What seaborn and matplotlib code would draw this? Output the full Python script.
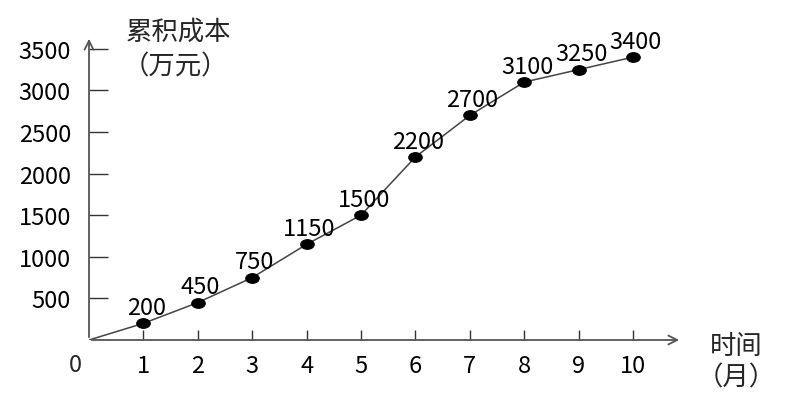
import numpy as np
import pandas as pd
import matplotlib
matplotlib.use("Agg")
import matplotlib.pyplot as plt
from matplotlib.path import Path
from matplotlib.transforms import Affine2D
import seaborn as sns

# data (month 0 is the origin the line starts from)
months = [0, 1, 2, 3, 4, 5, 6, 7, 8, 9, 10]
cost = [0, 200, 450, 750, 1150, 1500, 2200, 2700, 3100, 3250, 3400]
x_ticks = [1, 2, 3, 4, 5, 6, 7, 8, 9, 10]
y_ticks = [500, 1000, 1500, 2000, 2500, 3000, 3500]

df = pd.DataFrame({"month": months, "cost": cost})
pts = df[df["month"] > 0]

sns.set_style("white")
plt.rcParams["font.family"] = ["Noto Sans CJK SC", "DejaVu Sans"]

fig = plt.figure(figsize=(7.91, 4.14), dpi=100)
W, H = 791, 414
x0, y0 = 89, 341          # origin in pixels
xmax, ymax = 10.9, 3654
ax = fig.add_axes([x0 / W, (H - y0) / H, 593 / W, 304 / H])

sns.lineplot(data=df, x="month", y="cost", ax=ax, color="#444444", lw=1.1)

# flat ellipse marker like the original dots
ell = Path.unit_circle().transformed(Affine2D().scale(1.4, 1.0))
sns.scatterplot(data=pts, x="month", y="cost", ax=ax, marker=ell, s=95,
                color="black", edgecolor="black", zorder=3)

NUM = 17
for m, c in zip(pts["month"], pts["cost"]):
    ax.annotate(str(c), (m, c), xytext=(2, 3), textcoords="offset points",
                ha="center", va="bottom", fontsize=NUM, color="black")

ax.set_xlim(0, xmax)
ax.set_ylim(0, ymax)
for s in ax.spines.values():
    s.set_visible(False)

# axes as arrows
arr = dict(arrowstyle="->", color="#555555", lw=1.3, mutation_scale=16)
ax.annotate("", xy=(xmax, 0), xytext=(0, 0), arrowprops=arr, annotation_clip=False)
ax.annotate("", xy=(0, ymax), xytext=(0, 0), arrowprops=arr, annotation_clip=False)

ax.set_xticks(x_ticks)
ax.set_yticks(y_ticks)
ax.tick_params(axis="x", direction="in", length=7, width=1, color="#333333",
               pad=10, labelsize=NUM, labelcolor="black", bottom=True)
ax.tick_params(axis="y", direction="in", length=14, width=1, color="#333333",
               pad=13, labelsize=NUM, labelcolor="black", left=True)
ax.set_xlabel("")
ax.set_ylabel("")

ax.text(-0.25, -300, "0", ha="center", va="center", fontsize=NUM)
fig.text(178 / W, 1 - 32 / H, "累积成本", ha="center", va="center", fontsize=19)
fig.text(175 / W, 1 - 67 / H, "（万元）", ha="center", va="center", fontsize=19)
fig.text(736 / W, 1 - 347 / H, "时间", ha="center", va="center", fontsize=19)
fig.text(736 / W, 1 - 378 / H, "（月）", ha="center", va="center", fontsize=19)

fig.savefig("out.png", dpi=100)
